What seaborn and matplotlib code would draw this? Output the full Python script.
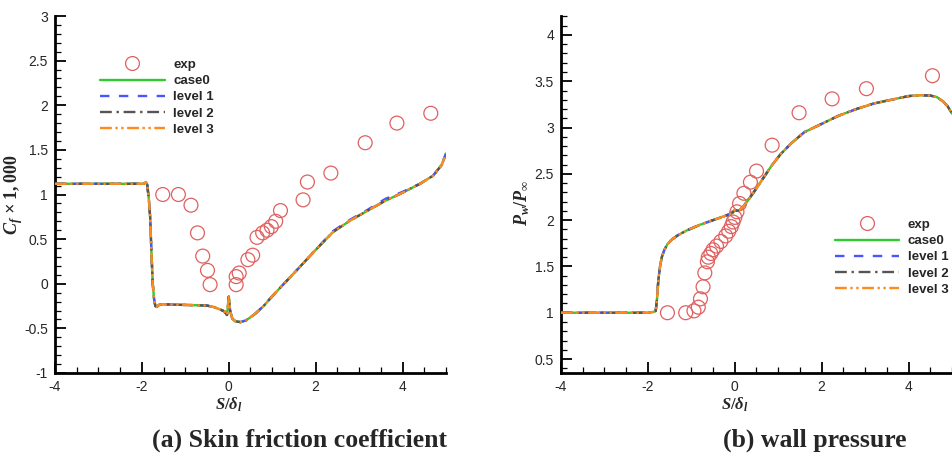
import numpy as np
import pandas as pd
import matplotlib
matplotlib.use("Agg")
import matplotlib.pyplot as plt
from matplotlib.lines import Line2D
from matplotlib.ticker import MultipleLocator, FuncFormatter
import seaborn as sns

# ---------------- data ----------------
# (a) skin friction, experiment
cf_exp_x = [-1.52, -1.16, -0.87, -0.72, -0.60, -0.49, -0.43, 0.17, 0.17, 0.24, 0.44, 0.55,
            0.65, 0.78, 0.88, 0.98, 1.08, 1.19, 1.71, 1.81, 2.35, 3.14, 3.87, 4.65]
cf_exp_y = [1.00, 1.00, 0.88, 0.57, 0.31, 0.15, -0.01, -0.01, 0.08, 0.12, 0.27, 0.32,
            0.52, 0.57, 0.60, 0.64, 0.70, 0.82, 0.94, 1.14, 1.24, 1.58, 1.80, 1.91]
# (a) skin friction, simulations
cf_sim_x = [-4.0, -3.0, -2.0, -1.95, -1.91, -1.88, -1.84, -1.81, -1.78, -1.75, -1.72, -1.69,
            -1.66, -1.6, -1.5, -1.2, -0.8, -0.5, -0.35, -0.19, -0.1, -0.04, -0.02, 0.0,
            0.03, 0.08, 0.15, 0.27, 0.4, 0.6, 0.8, 1.0, 1.27, 1.6, 2.0, 2.4, 2.8, 3.2,
            3.6, 4.0, 4.4, 4.7, 4.9, 5.0]
cf_case0 = [1.12, 1.12, 1.12, 1.12, 1.14, 1.12, 0.95, 0.75, 0.35, 0.0, -0.17, -0.25,
            -0.26, -0.235, -0.23, -0.235, -0.24, -0.245, -0.26, -0.29, -0.31, -0.35, -0.25, -0.145,
            -0.30, -0.39, -0.42, -0.43, -0.41, -0.34, -0.25, -0.14, 0.0, 0.17, 0.38, 0.58, 0.71, 0.82,
            0.93, 1.02, 1.12, 1.21, 1.33, 1.46]
cf_level1 = [1.12, 1.12, 1.12, 1.12, 1.14, 1.12, 0.95, 0.75, 0.35, 0.0, -0.17, -0.25,
             -0.26, -0.235, -0.23, -0.235, -0.24, -0.245, -0.26, -0.29, -0.31, -0.35, -0.25, -0.145,
             -0.30, -0.39, -0.42, -0.43, -0.41, -0.34, -0.25, -0.14, 0.0, 0.17, 0.38, 0.59, 0.72, 0.83,
             0.95, 1.03, 1.12, 1.21, 1.33, 1.46]
cf_level2 = cf_case0
cf_level3 = cf_case0

# (b) wall pressure, experiment
pw_exp_x = [-1.55, -1.13, -0.94, -0.84, -0.79, -0.73, -0.69, -0.63, -0.61, -0.55, -0.50, -0.42,
            -0.32, -0.21, -0.14, -0.08, -0.04, 0.0, 0.05, 0.11, 0.21, 0.36, 0.50, 0.86, 1.48,
            2.24, 3.03, 4.55]
pw_exp_y = [1.00, 1.00, 1.02, 1.06, 1.15, 1.28, 1.43, 1.55, 1.60, 1.64, 1.68, 1.72,
            1.77, 1.83, 1.88, 1.93, 1.98, 2.03, 2.09, 2.18, 2.29, 2.41, 2.53, 2.81, 3.16,
            3.31, 3.42, 3.56]
# (b) wall pressure, simulations
pw_sim_x = [-4.0, -3.0, -2.0, -1.85, -1.82, -1.79, -1.76, -1.72, -1.68, -1.62, -1.55, -1.45,
            -1.3, -1.1, -0.8, -0.5, -0.2, -0.05, 0.0, 0.05, 0.12, 0.2, 0.3, 0.45, 0.65, 0.85,
            1.05, 1.3, 1.6, 2.0, 2.4, 2.8, 3.2, 3.6, 4.0, 4.3, 4.5, 4.65, 4.8, 4.9, 5.0]
pw_case0 = [1.0, 1.0, 1.0, 1.01, 1.02, 1.15, 1.35, 1.50, 1.60, 1.68, 1.74, 1.79,
            1.84, 1.89, 1.95, 2.00, 2.05, 2.08, 2.11, 2.10, 2.11, 2.15, 2.21, 2.31, 2.45, 2.59,
            2.71, 2.83, 2.95, 3.04, 3.13, 3.20, 3.26, 3.30, 3.34, 3.35, 3.345, 3.33, 3.28, 3.23, 3.15]
pw_level1 = pw_case0
pw_level2 = pw_case0
pw_level3 = pw_case0

series_names = ["case0", "level 1", "level 2", "level 3"]

# ---------------- style ----------------
sns.set_theme(style="ticks")
plt.rcParams["font.family"] = ["Liberation Sans", "DejaVu Sans"]
plt.rcParams["axes.unicode_minus"] = False
plt.rcParams["mathtext.fontset"] = "custom"
plt.rcParams["mathtext.it"] = "Liberation Serif:bold:italic"
plt.rcParams["mathtext.rm"] = "Liberation Serif:bold"
plt.rcParams["mathtext.bf"] = "Liberation Serif:bold"

colors = {"case0": "#2ecc2e", "level 1": "#4a55ff", "level 2": "#555555", "level 3": "#ff8a1e"}
styles = {"case0": "-", "level 1": (0, (4, 4)), "level 2": (0, (5, 2, 1, 2)),
          "level 3": (0, (5, 1.5, 1, 1.5, 1, 1.5))}
exp_color = "#e06060"

fig = plt.figure(figsize=(9.53, 4.57), dpi=100)
ax1 = fig.add_axes([55 / 953, 1 - 373 / 457, 391 / 953, 357 / 457])
ax2 = fig.add_axes([561 / 953, 1 - 373 / 457, 391 / 953, 357 / 457])

fmt = FuncFormatter(lambda v, p: "%g" % round(v, 6))


def draw(ax, ex, ey, sx, ys):
    sns.scatterplot(x=ex, y=ey, ax=ax, marker="o", s=100, facecolors="none",
                    edgecolor=exp_color, linewidth=0.9, legend=False, zorder=2)
    for name, yv in zip(series_names, ys):
        df = pd.DataFrame({"x": sx, "y": yv})
        sns.lineplot(data=df, x="x", y="y", ax=ax, sort=False, estimator=None,
                     color=colors[name], linestyle=styles[name], linewidth=1.7,
                     legend=False, zorder=3)
    ax.set_xlim(-4, 5)
    ax.xaxis.set_major_locator(MultipleLocator(2))
    ax.xaxis.set_minor_locator(MultipleLocator(0.5))
    ax.yaxis.set_major_locator(MultipleLocator(0.5))
    ax.yaxis.set_minor_locator(MultipleLocator(0.1))
    ax.xaxis.set_major_formatter(fmt)
    ax.yaxis.set_major_formatter(fmt)
    for side in ["top", "right"]:
        ax.spines[side].set_visible(False)
    for side in ["left", "bottom"]:
        ax.spines[side].set_linewidth(2.0)
        ax.spines[side].set_color("black")
    ax.tick_params(which="major", direction="in", length=8, width=1.3, labelsize=10,
                   pad=5, color="black")
    ax.tick_params(which="minor", direction="in", length=4.3, width=0.9, color="black")
    ax.set_xlabel(r"$S/\delta_l$", fontsize=12)
    ax.xaxis.set_label_coords(0.445, -0.064)
    for lab in ax.get_xticklabels() + ax.get_yticklabels():
        lab.set_fontweight("normal")


def make_legend(ax, anchor):
    handles = [Line2D([], [], marker="o", linestyle="none", markersize=10,
                      markerfacecolor="none", markeredgecolor=exp_color, markeredgewidth=0.9)]
    for name in series_names:
        handles.append(Line2D([], [], color=colors[name], linestyle=styles[name], linewidth=1.7))
    leg = ax.legend(handles, ["exp"] + series_names, loc="upper left", bbox_to_anchor=anchor,
                    frameon=False, handlelength=4.9, handletextpad=0.65, labelspacing=0.3,
                    borderpad=0, borderaxespad=0,
                    prop={"family": "Liberation Sans", "weight": "bold", "size": 9.5})
    return leg


draw(ax1, cf_exp_x, cf_exp_y, cf_sim_x, [cf_case0, cf_level1, cf_level2, cf_level3])
ax1.set_ylim(-1, 3)
ax1.set_ylabel(r"$C_f$ × $1,000$", fontsize=13,
               fontfamily="Liberation Serif", fontweight="bold", fontstyle="italic")
ax1.yaxis.set_label_coords(-0.077, 0.5)
make_legend(ax1, (0.115, 0.88))

draw(ax2, pw_exp_x, pw_exp_y, pw_sim_x, [pw_case0, pw_level1, pw_level2, pw_level3])
ax2.set_ylim(0.349, 4.205)
ax2.set_ylabel(r"$P_w/P_\infty$", fontsize=13)
ax2.yaxis.set_label_coords(-0.074, 0.476)
make_legend(ax2, (0.70, 0.432))

fig.text(300 / 953, 1 - 440 / 457, "(a) Skin friction coefficient", ha="center", va="center",
         fontsize=18.5, fontweight="bold", fontfamily="Liberation Serif")
fig.text(815 / 953, 1 - 440 / 457, "(b) wall pressure", ha="center", va="center",
         fontsize=18.5, fontweight="bold", fontfamily="Liberation Serif")

fig.savefig("out.png", dpi=100)
